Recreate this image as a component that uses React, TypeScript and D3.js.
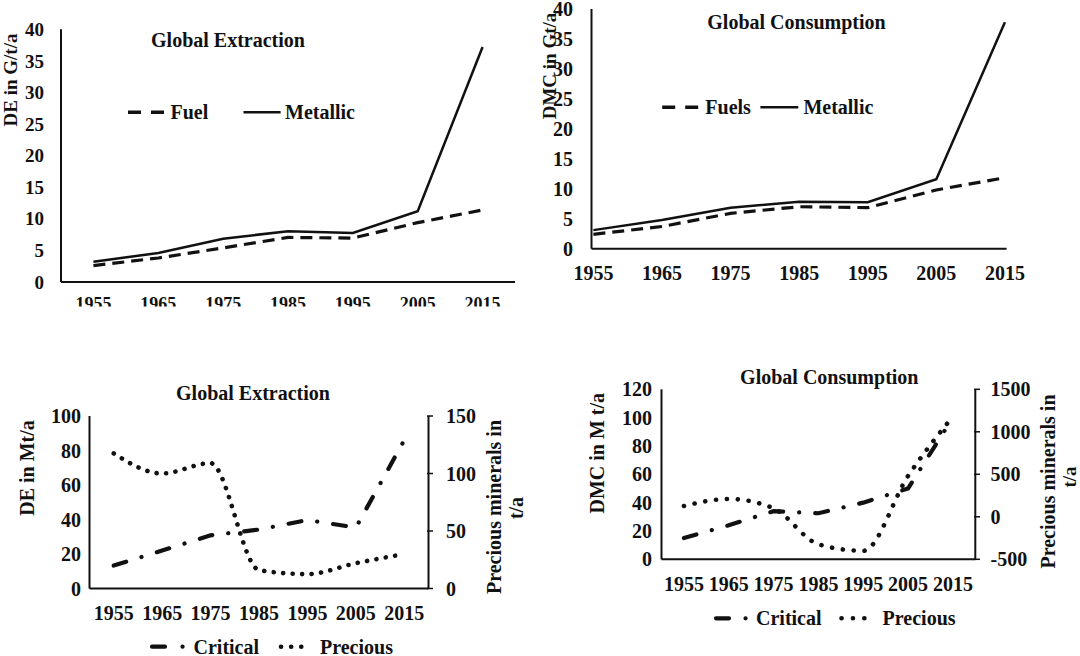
import React from 'react';
import * as d3 from 'd3';

const years = ['1955', '1965', '1975', '1985', '1995', '2005', '2015'];

// Top-left: Global Extraction (G t/a)
const extractionFuel = [2.6, 3.8, 5.4, 7.05, 6.95, 9.4, 11.4];
const extractionMetallic = [3.2, 4.6, 6.85, 8.05, 7.75, 11.2, 37.2];
// Top-right: Global Consumption (Gt/a)
const consumptionFuels = [2.4, 3.7, 5.9, 7.0, 6.85, 9.8, 11.85];
const consumptionMetallic = [3.1, 4.8, 6.85, 7.85, 7.75, 11.6, 37.8];
// Bottom-left: Global Extraction (Mt/a, precious in t/a)
const extractionCritical = [13.3, 22, 30.8, 34.2, 39.7, 35.3, 86];
const extractionPrecious = [117.5, 100, 109, 16, 12.5, 22, 30];
// Bottom-right: Global Consumption (M t/a, precious in t/a)
const consumptionCritical = [15, 24, 34, 32.5, 40, 50, 100];
const consumptionPrecious = [127, 210, 100, -323, -400, 480, 1180];

const gtTicks = [0, 5, 10, 15, 20, 25, 30, 35, 40];
const extrLeftTicks = [0, 20, 40, 60, 80, 100];
const extrRightTicks = [0, 50, 100, 150];
const consLeftTicks = [0, 20, 40, 60, 80, 100, 120];
const consRightTicks = [-500, 0, 500, 1000, 1500];

const FONT = "'Liberation Serif', 'Times New Roman', serif";
const INK = '#111';
const DASH_DOT = '13,16,0.1,16';

const T = (props: any) => (
  <text fontFamily={FONT} fontWeight="bold" fill={INK} {...props} />
);

function TopLeft() {
  const x = d3.scaleBand<string>().domain(years).range([61, 515]);
  const cx = (y: string) => (x(y) as number) + x.bandwidth() / 2;
  const y = d3.scaleLinear().domain([0, 40]).range([282, 29.3]);
  const line = d3.line<number>().x((_, i) => cx(years[i])).y((d) => y(d));
  return (
    <g>
      <defs>
        <clipPath id="clipTL">
          <rect x={0} y={0} width={540} height={306.5} />
        </clipPath>
      </defs>
      <line x1={61} x2={61} y1={y(40)} y2={y(0)} stroke={INK} strokeWidth={2} />
      <line x1={61} x2={515} y1={y(0)} y2={y(0)} stroke={INK} strokeWidth={2} />
      {gtTicks.map((t) => (
        <T key={t} x={44} y={y(t)} dy="0.35em" textAnchor="end" fontSize={19}>{t}</T>
      ))}
      <g clipPath="url(#clipTL)">
        {years.map((yr) => (
          <T key={yr} x={cx(yr)} y={310} textAnchor="middle" fontSize={18}>{yr}</T>
        ))}
      </g>
      <T x={0} y={0} transform="translate(17,80) rotate(-90)" textAnchor="middle" fontSize={19}>DE in G/t/a</T>
      <T x={228} y={47} textAnchor="middle" fontSize={20}>Global Extraction</T>
      <path d={line(extractionFuel) || ''} fill="none" stroke={INK} strokeWidth={3.2} strokeDasharray="12,7" />
      <path d={line(extractionMetallic) || ''} fill="none" stroke={INK} strokeWidth={2.5} />
      <line x1={128} x2={166} y1={112.3} y2={112.3} stroke={INK} strokeWidth={3.5} strokeDasharray="13,10" />
      <T x={170.5} y={119} fontSize={20}>Fuel</T>
      <line x1={243.5} x2={280.6} y1={112.3} y2={112.3} stroke={INK} strokeWidth={2.5} />
      <T x={285} y={119} fontSize={20}>Metallic</T>
    </g>
  );
}

function TopRight() {
  const x = d3.scalePoint<string>().domain(years).range([593.4, 1004.9]);
  const y = d3.scaleLinear().domain([0, 40]).range([248.7, 9]);
  const line = d3.line<number>().x((_, i) => x(years[i]) as number).y((d) => y(d));
  return (
    <g>
      <line x1={591.5} x2={591.5} y1={y(40)} y2={y(0)} stroke={INK} strokeWidth={2} />
      <line x1={591.5} x2={1006.6} y1={y(0)} y2={y(0)} stroke={INK} strokeWidth={2} />
      {gtTicks.map((t) => (
        <T key={t} x={573} y={y(t)} dy="0.35em" textAnchor="end" fontSize={20}>{t}</T>
      ))}
      {years.map((yr) => (
        <T key={yr} x={x(yr)} y={280} textAnchor="middle" fontSize={20}>{yr}</T>
      ))}
      <T x={0} y={0} transform="translate(556,66) rotate(-90)" textAnchor="middle" fontSize={19}>DMC in Gt/a</T>
      <T x={796.5} y={29} textAnchor="middle" fontSize={20}>Global Consumption</T>
      <path d={line(consumptionFuels) || ''} fill="none" stroke={INK} strokeWidth={3.2} strokeDasharray="12,7" />
      <path d={line(consumptionMetallic) || ''} fill="none" stroke={INK} strokeWidth={2.5} />
      <line x1={662.2} x2={700.1} y1={107.3} y2={107.3} stroke={INK} strokeWidth={3.5} strokeDasharray="13,10" />
      <T x={705.3} y={114} fontSize={20}>Fuels</T>
      <line x1={760.4} x2={798.3} y1={107.3} y2={107.3} stroke={INK} strokeWidth={2.5} />
      <T x={803.4} y={114} fontSize={20}>Metallic</T>
    </g>
  );
}

function BottomLeft() {
  const x = d3.scaleBand<string>().domain(years).range([89.5, 428.5]);
  const cx = (y: string) => (x(y) as number) + x.bandwidth() / 2;
  const yL = d3.scaleLinear().domain([0, 100]).range([588.5, 416]);
  const yR = d3.scaleLinear().domain([0, 150]).range([588.5, 416]);
  const lineL = d3.line<number>().x((_, i) => cx(years[i])).y((d) => yL(d));
  const lineR = d3.line<number>().x((_, i) => cx(years[i])).y((d) => yR(d)).curve(d3.curveMonotoneX);
  return (
    <g>
      <line x1={89.5} x2={89.5} y1={416} y2={588.5} stroke={INK} strokeWidth={2} />
      <line x1={428.5} x2={428.5} y1={416} y2={588.5} stroke={INK} strokeWidth={2} />
      <line x1={89.5} x2={428.5} y1={588.5} y2={588.5} stroke={INK} strokeWidth={2} />
      {extrRightTicks.map((t) => (
        <line key={t} x1={427} x2={433} y1={yR(t)} y2={yR(t)} stroke={INK} strokeWidth={1.5} />
      ))}
      {extrLeftTicks.map((t) => (
        <T key={t} x={81} y={yL(t)} dy="0.35em" textAnchor="end" fontSize={20}>{t}</T>
      ))}
      {extrRightTicks.map((t) => (
        <T key={t} x={446} y={yR(t)} dy="0.35em" textAnchor="start" fontSize={20}>{t}</T>
      ))}
      {years.map((yr) => (
        <T key={yr} x={cx(yr)} y={620} textAnchor="middle" fontSize={20}>{yr}</T>
      ))}
      <T x={0} y={0} transform="translate(34,468) rotate(-90)" textAnchor="middle" fontSize={20}>DE in Mt/a</T>
      <T x={0} y={0} transform="translate(500.5,507) rotate(-90)" textAnchor="middle" fontSize={20}>Precious minerals in</T>
      <T x={0} y={0} transform="translate(523,508) rotate(-90)" textAnchor="middle" fontSize={20}>t/a</T>
      <T x={253} y={400} textAnchor="middle" fontSize={20}>Global Extraction</T>
      <path d={lineL(extractionCritical) || ''} fill="none" stroke={INK} strokeWidth={4.2} strokeLinecap="round" strokeDasharray={DASH_DOT} />
      <path d={lineR(extractionPrecious) || ''} fill="none" stroke={INK} strokeWidth={4.6} strokeLinecap="round" strokeDasharray="0.1,9.4" />
      <line x1={152} x2={190} y1={646.7} y2={646.7} stroke={INK} strokeWidth={4.2} strokeLinecap="round" strokeDasharray="13,17.5,0.1,100" />
      <T x={193.5} y={653.5} fontSize={20}>Critical</T>
      <line x1={281} x2={311} y1={646.7} y2={646.7} stroke={INK} strokeWidth={4.6} strokeLinecap="round" strokeDasharray="0.1,10" />
      <T x={320} y={653.5} fontSize={20}>Precious</T>
    </g>
  );
}

function BottomRight() {
  const x = d3.scaleBand<string>().domain(years).range([661.5, 975.3]);
  const cx = (y: string) => (x(y) as number) + x.bandwidth() / 2;
  const yL = d3.scaleLinear().domain([0, 120]).range([559.3, 389.3]);
  const yR = d3.scaleLinear().domain([-500, 1500]).range([559.3, 389.3]);
  const lineL = d3.line<number>().x((_, i) => cx(years[i])).y((d) => yL(d));
  const lineR = d3.line<number>().x((_, i) => cx(years[i])).y((d) => yR(d)).curve(d3.curveMonotoneX);
  return (
    <g>
      <line x1={661.5} x2={661.5} y1={389.3} y2={559.3} stroke={INK} strokeWidth={2} />
      <line x1={975.3} x2={975.3} y1={389.3} y2={559.3} stroke={INK} strokeWidth={2} />
      <line x1={661.5} x2={975.3} y1={559.3} y2={559.3} stroke={INK} strokeWidth={2} />
      {consRightTicks.map((t) => (
        <line key={t} x1={974} x2={980} y1={yR(t)} y2={yR(t)} stroke={INK} strokeWidth={1.5} />
      ))}
      {consLeftTicks.map((t) => (
        <T key={t} x={652} y={yL(t)} dy="0.35em" textAnchor="end" fontSize={20}>{t}</T>
      ))}
      {consRightTicks.map((t) => (
        <T key={t} x={990.5} y={yR(t)} dy="0.35em" textAnchor="start" fontSize={20}>{t}</T>
      ))}
      {years.map((yr) => (
        <T key={yr} x={cx(yr)} y={591} textAnchor="middle" fontSize={20}>{yr}</T>
      ))}
      <T x={0} y={0} transform="translate(603.5,453.3) rotate(-90)" textAnchor="middle" fontSize={20}>DMC in M t/a</T>
      <T x={0} y={0} transform="translate(1054.5,481.5) rotate(-90)" textAnchor="middle" fontSize={20}>Precious minerals in</T>
      <T x={0} y={0} transform="translate(1075.5,477) rotate(-90)" textAnchor="middle" fontSize={19}>t/a</T>
      <T x={829.3} y={384} textAnchor="middle" fontSize={20}>Global Consumption</T>
      <path d={lineL(consumptionCritical) || ''} fill="none" stroke={INK} strokeWidth={4.2} strokeLinecap="round" strokeDasharray={DASH_DOT} />
      <path d={lineR(consumptionPrecious) || ''} fill="none" stroke={INK} strokeWidth={4.6} strokeLinecap="round" strokeDasharray="0.1,10.8" />
      <line x1={716} x2={754} y1={618.3} y2={618.3} stroke={INK} strokeWidth={4.2} strokeLinecap="round" strokeDasharray="13,16.5,0.1,100" />
      <T x={756} y={625} fontSize={20}>Critical</T>
      <line x1={841.5} x2={875.5} y1={618.3} y2={618.3} stroke={INK} strokeWidth={4.6} strokeLinecap="round" strokeDasharray="0.1,11.3" />
      <T x={882.6} y={625} fontSize={20}>Precious</T>
    </g>
  );
}

export default function App() {
  return (
    <svg
      width={1080}
      height={656}
      viewBox="0 0 1080 656"
      style={{ position: 'absolute', left: 0, top: 0, background: '#fff' }}
    >
      <rect x={0} y={0} width={1080} height={656} fill="#fff" />
      <TopLeft />
      <TopRight />
      <BottomLeft />
      <BottomRight />
    </svg>
  );
}
